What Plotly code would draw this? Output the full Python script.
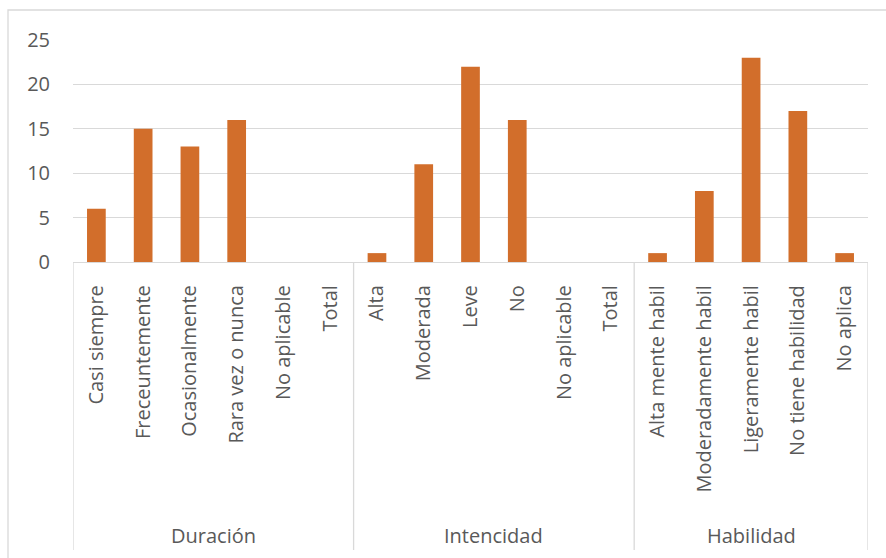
import plotly.graph_objects as go

groups = ["Duración", "Intencidad", "Habilidad"]
group_labels = [
    ["Casi siempre", "Freceuntemente", "Ocasionalmente", "Rara vez o nunca", "No aplicable", "Total"],
    ["Alta", "Moderada", "Leve", "No", "No aplicable", "Total"],
    ["Alta mente habil", "Moderadamente habil", "Ligeramente habil", "No tiene habilidad", "No aplica"],
]
group_values = [
    [6, 15, 13, 16, None, None],
    [1, 11, 22, 16, None, None],
    [1, 8, 23, 17, 1],
]
y_ticks = [0, 5, 10, 15, 20, 25]

BAR = "#D26E2B"
GRID = "#D9D9D9"
TXT = "#595959"
FONT = "Open Sans"

ids, labels, values = [], [], []
for g, labs, vals in zip(groups, group_labels, group_values):
    for lab, v in zip(labs, vals):
        ids.append(f"{g}|{lab}")
        labels.append(lab)
        values.append(v)

fig = go.Figure(go.Bar(x=ids, y=values, marker=dict(color=BAR, line=dict(width=0)),
                       width=0.4, hoverinfo="x+y"))

W, H = 886, 558
ml, mr, mt, mb = 73, 18, 40, 296
pw, ph = W - ml - mr, H - mt - mb

def px_to_paper_y(py):
    return (H - mb - py) / ph

def px_to_paper_x(pxv):
    return (pxv - ml) / pw

shapes = []
annotations = []
start = 0
bounds = [-0.5]
for g, labs in zip(groups, group_labels):
    n = len(labs)
    end = start + n
    bounds.append(end - 0.5)
    annotations.append(dict(x=(start + end - 1) / 2, y=px_to_paper_y(535), xref="x", yref="paper",
                            text=g, showarrow=False, font=dict(family=FONT, size=20, color=TXT),
                            xanchor="center", yanchor="middle"))
    start = end
for b in bounds:
    shapes.append(dict(type="line", xref="x", yref="paper", x0=b, x1=b, y0=0, y1=px_to_paper_y(550),
                       line=dict(color=GRID, width=1.3), layer="below"))
# chart border
shapes.append(dict(type="rect", xref="paper", yref="paper",
                   x0=px_to_paper_x(8), x1=px_to_paper_x(900),
                   y0=px_to_paper_y(580), y1=px_to_paper_y(10),
                   line=dict(color=GRID, width=1.3), fillcolor="rgba(0,0,0,0)", layer="below"))

fig.update_layout(
    width=W, height=H,
    margin=dict(l=ml, r=mr, t=mt, b=mb, autoexpand=False),
    paper_bgcolor="white", plot_bgcolor="white",
    showlegend=False,
    bargap=0.6,
    shapes=shapes,
    annotations=annotations,
    font=dict(family=FONT, size=20, color=TXT),
)
fig.update_xaxes(
    type="category", categoryorder="array", categoryarray=ids,
    tickmode="array", tickvals=ids, ticktext=labels,
    tickangle=-90, ticks="", ticklabelstandoff=14,
    showline=True, linecolor=GRID, linewidth=1.3,
    showgrid=False, range=[-0.5, len(ids) - 0.5],
    tickfont=dict(family=FONT, size=20, color=TXT),
)
fig.update_yaxes(
    range=[0, 25], tickmode="array", tickvals=y_ticks,
    showgrid=True, gridcolor=GRID, gridwidth=1.3,
    zeroline=False, showline=False, ticks="", ticklabelstandoff=22,
    tickfont=dict(family=FONT, size=20, color=TXT),
)

fig.write_html("out.html")
